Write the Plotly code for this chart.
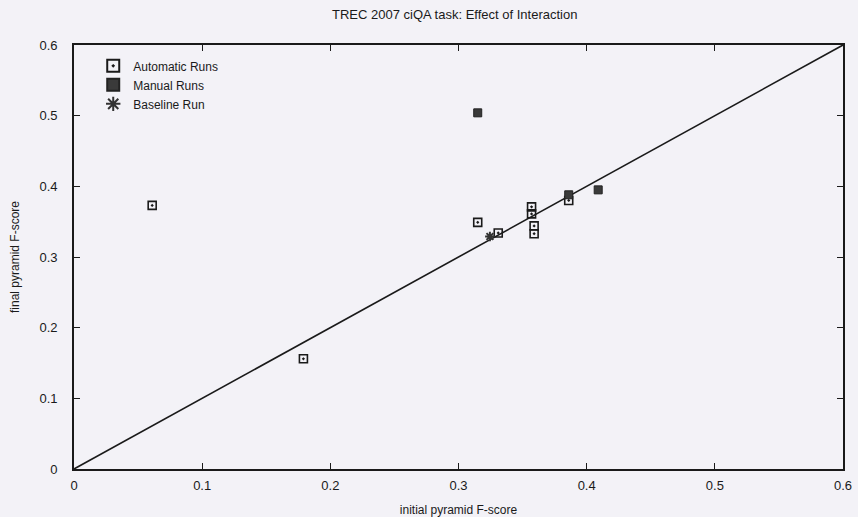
import plotly.graph_objects as go

auto_x = [0.061, 0.179, 0.315, 0.331, 0.357, 0.357, 0.359, 0.359, 0.386]
auto_y = [0.373, 0.156, 0.349, 0.334, 0.371, 0.361, 0.344, 0.333, 0.380]
manual_x = [0.315, 0.386, 0.409]
manual_y = [0.504, 0.388, 0.395]
base_x = [0.3245]
base_y = [0.329]
diag = [0.0, 0.6]
ticks = [0, 0.1, 0.2, 0.3, 0.4, 0.5, 0.6]
tick_text = ["0", "0.1", "0.2", "0.3", "0.4", "0.5", "0.6"]

bg = "#f3f2f7"
ink = "#1a1a1a"
font = "Liberation Sans, Arial, sans-serif"

fig = go.Figure()
fig.add_trace(go.Scatter(x=diag, y=diag, mode="lines", line=dict(color=ink, width=1.6),
                         showlegend=False, hoverinfo="skip"))
fig.add_trace(go.Scatter(x=auto_x, y=auto_y, mode="markers", name="Automatic Runs",
                         marker=dict(symbol="square-open-dot", size=8, color=ink,
                                     line=dict(width=1.6, color=ink))))
fig.add_trace(go.Scatter(x=manual_x, y=manual_y, mode="markers", name="Manual Runs",
                         marker=dict(symbol="square", size=8, color="#3a3a3a",
                                     line=dict(width=1, color="#222222"))))
fig.add_trace(go.Scatter(x=base_x, y=base_y, mode="markers", name="Baseline Run",
                         marker=dict(symbol="asterisk-open", size=8, color="#333333",
                                     line=dict(width=2, color="#333333"))))

axis_common = dict(
    range=[0, 0.6], tickvals=ticks, ticktext=tick_text,
    showgrid=False, zeroline=False, automargin=False,
    showline=True, linecolor=ink, linewidth=1.6, mirror="ticks",
    ticks="inside", ticklen=6, tickwidth=1.2, tickcolor=ink,
    tickfont=dict(family=font, size=13, color=ink),
)

fig.update_layout(
    width=858, height=517,
    paper_bgcolor=bg, plot_bgcolor=bg,
    margin=dict(l=74, r=15, t=45, b=48, autoexpand=False),
    title=dict(text="TREC 2007 ciQA task: Effect of Interaction", x=0.53, xanchor="center",
               y=0.973, yanchor="middle",
               font=dict(family=font, size=13, color=ink)),
    xaxis=dict(axis_common, ticklabelstandoff=4,
               title=dict(text="initial pyramid F-score", standoff=22,
                          font=dict(family=font, size=12, color=ink))),
    yaxis=dict(axis_common, ticklabelstandoff=12,
               title=dict(text="final pyramid F-score", standoff=17,
                          font=dict(family=font, size=12, color=ink))),
    legend=dict(x=0.025, y=0.985, xanchor="left", yanchor="top", bgcolor="rgba(0,0,0,0)",
                font=dict(family=font, size=12, color=ink), tracegroupgap=0,
                itemsizing="constant"),
    showlegend=True,
)

fig.write_html("out.html", config={"displayModeBar": False},
               post_script="document.body.style.margin='0';document.body.style.background='%s';" % bg)
